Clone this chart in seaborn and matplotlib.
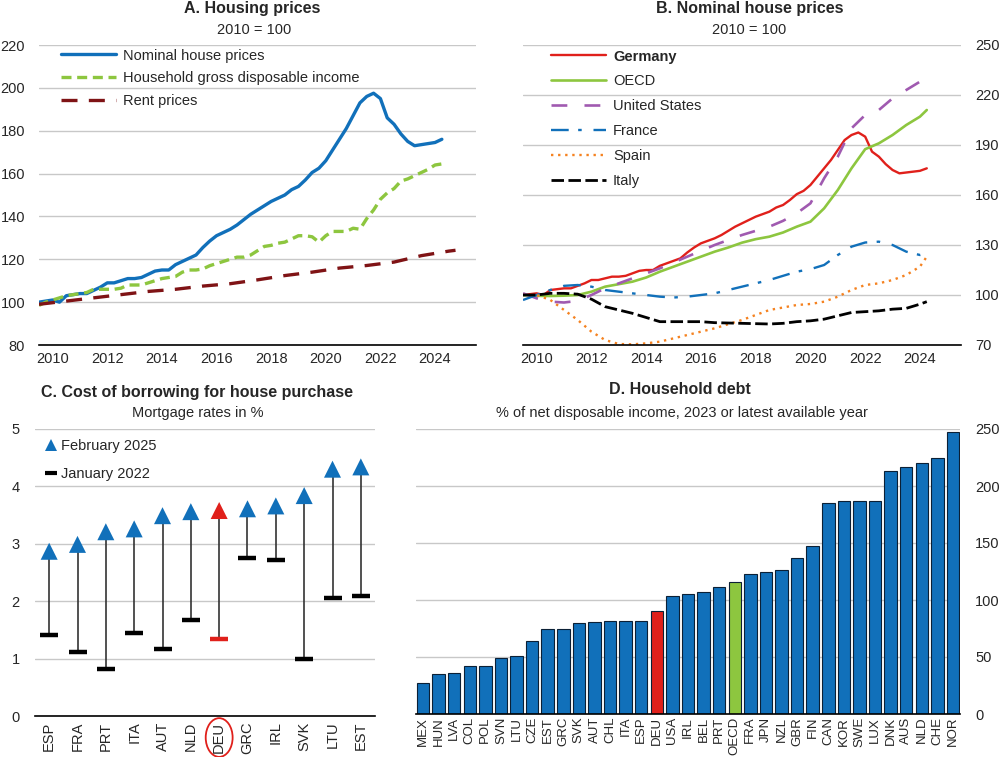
import numpy as np
import matplotlib
matplotlib.use("Agg")
import matplotlib.pyplot as plt
import seaborn as sns
from matplotlib.lines import Line2D
from matplotlib.patches import Ellipse
from matplotlib.ticker import FixedLocator, NullFormatter
import matplotlib.transforms as mtransforms

# ---------------- data ----------------
# Panel A / B : Germany, quarterly 2010Q1-2024Q4, 2010 = 100
quarters = 2010 + np.arange(60) / 4
house_prices = [100, 100.5, 101, 100, 103, 103.5, 104, 104, 105.5, 107, 109, 109,
                110, 111, 111, 111.5, 113, 114.5, 115, 115, 117.5, 119, 120.5, 122,
                125.5, 128.5, 131, 132.5, 134, 136, 138.5, 141, 143, 145, 147, 148.5,
                150, 152.5, 154, 157, 160.5, 162.5, 166, 171, 176, 181, 187, 193,
                196, 197.5, 195, 186, 183, 178.5, 175, 173, 173.5, 174, 174.5, 176]
income = [98.5, 100, 101, 102, 103, 103.5, 104, 104.5, 106, 106, 106, 106,
          106.5, 108, 108, 108, 109, 110, 111, 111.5, 112, 114, 115, 115,
          115.5, 117, 118, 119, 120, 121, 121, 122, 124, 126, 126.5, 127.5,
          128, 129.5, 131, 131, 130.5, 128, 131, 133, 133, 133, 134.5, 134,
          139, 143, 148, 151, 153, 156.5, 157.5, 159, 160.5, 162, 164, 164.5]
rent_x = [2010, 2011, 2012, 2013, 2014, 2015, 2016, 2017, 2018, 2019,
          2020, 2021, 2022, 2023, 2024, 2025, 2025.25]
rent = [99, 100.5, 102, 103.5, 105, 106, 107.5, 108.6, 110.4, 112.4,
        114, 115.9, 117.1, 118.7, 121.7, 123.8, 124.2]

# Panel B : half-yearly, 2010 = 100
half_years = list(np.arange(2010, 2024.6, 0.5)) + [2024.75]
oecd = [100, 99.5, 99.4, 99.6, 100, 102, 105, 106.5, 108, 110.5, 114, 117, 120,
        123, 126, 128.5, 131.4, 133.5, 135, 137.5, 141, 144, 152, 163, 176, 187.5,
        191, 196, 202, 207, 211]
usa = [101, 98, 96, 95.5, 96.5, 100, 104, 107, 110, 113, 116, 119.5, 123, 126.5,
       130, 133, 136, 138.5, 141, 144.5, 149, 155, 170, 183, 200, 208, 211, 218,
       223, 228, 231]
france = [97, 100, 103, 105.5, 106, 105, 103, 102, 101, 100, 99, 98.5, 99, 100,
          101, 103, 105, 107, 109, 111.5, 114, 115.5, 118, 124, 129, 131.5, 132,
          130, 126, 124, 125]
spain = [100, 100, 97, 91, 85, 78, 73, 70.6, 70.4, 71, 72, 74, 76, 78, 80, 82.5,
         85, 88, 91, 92.5, 94, 94.6, 96, 99, 103, 106, 107, 109, 112, 117, 123]
italy = [100, 100, 101, 101, 100.5, 97.5, 93, 91, 89, 86.5, 84, 84, 84, 84, 83.4,
         83.2, 83, 82.8, 82.6, 83, 84, 84.5, 85.5, 87.5, 89.5, 90, 90.5, 91.5, 92,
         94.5, 96]

# Panel C : mortgage rates, %
c_countries = ["ESP", "FRA", "PRT", "ITA", "AUT", "NLD", "DEU", "GRC", "IRL", "SVK", "LTU", "EST"]
feb_2025 = [2.87, 2.99, 3.21, 3.26, 3.49, 3.56, 3.58, 3.61, 3.66, 3.84, 4.30, 4.34]
jan_2022 = [1.415, 1.11, 0.82, 1.44, 1.16, 1.665, 1.345, 2.755, 2.71, 1.00, 2.05, 2.09]

# Panel D : household debt, % of net disposable income
d_countries = ["MEX", "HUN", "LVA", "COL", "POL", "SVN", "LTU", "CZE", "EST", "GRC", "SVK",
               "AUT", "CHL", "ITA", "ESP", "DEU", "USA", "IRL", "BEL", "PRT", "OECD", "FRA",
               "JPN", "NZL", "GBR", "FIN", "CAN", "KOR", "SWE", "LUX", "DNK", "AUS", "NLD",
               "CHE", "NOR"]
debt = [27, 35, 36, 42, 42, 49, 51, 64, 75, 75, 80, 81, 81.6, 82, 82, 90, 103.4, 105,
        106.6, 111.3, 116, 122.7, 124.7, 125.9, 137, 147, 185.3, 186.8, 186.8, 186.8,
        213, 217, 220.6, 225, 247.4]

# ---------------- style ----------------
BLUE = "#1170BA"
GREEN = "#8DC63F"
RED = "#E0201B"
DARKRED = "#7F1315"
PURPLE = "#A05AB0"
ORANGE = "#F58220"
GRID = "#C8C8C8"
FS = 10.5      # body text
TFS = 11.5     # panel titles

sns.set_style("white")
plt.rcParams["font.family"] = ["Liberation Sans", "DejaVu Sans"]
plt.rcParams["font.size"] = FS

W, H = 1000, 757
fig = plt.figure(figsize=(10, 7.57), dpi=100)


def px_axes(l, t, r, b):
    return fig.add_axes([l / W, 1 - b / H, (r - l) / W, (b - t) / H])


def px_text(x, y, s, **kw):
    fig.text(x / W, 1 - y / H, s, ha="center", va="center", **kw)


def base_style(ax):
    for s in ["top", "left", "right"]:
        ax.spines[s].set_visible(False)
    ax.spines["bottom"].set_color("black")
    ax.spines["bottom"].set_linewidth(1.2)
    ax.yaxis.grid(True, color=GRID, lw=1)
    ax.xaxis.grid(False)
    ax.set_axisbelow(True)
    ax.set_xlabel("")
    ax.set_ylabel("")


def year_axis(ax):
    ax.set_xlim(2010, 2026)
    ax.xaxis.set_major_locator(FixedLocator(range(2010, 2027)))
    ax.xaxis.set_major_formatter(NullFormatter())
    ax.xaxis.set_minor_locator(FixedLocator([y + 0.5 for y in range(2010, 2025, 2)]))
    ax.set_xticklabels([str(y) for y in range(2010, 2025, 2)], minor=True)
    ax.tick_params(axis="x", which="major", direction="in", length=5, width=1.2, color="black")
    ax.tick_params(axis="x", which="minor", length=0, pad=5, labelsize=FS)


axA = px_axes(39, 45, 476, 345)
axB = px_axes(523, 45, 961, 345)
axC = px_axes(35, 429, 375, 716)
axD = px_axes(416, 429, 960, 714)

# ---------------- Panel A ----------------
sns.lineplot(x=quarters, y=house_prices, color=BLUE, lw=2.4, label="Nominal house prices", ax=axA)
sns.lineplot(x=quarters, y=income, color=GREEN, lw=2.4, linestyle=(0, (3.0, 1.7)),
             label="Household gross disposable income", ax=axA)
sns.lineplot(x=rent_x, y=rent, color=DARKRED, lw=2.4, linestyle=(0, (4.8, 3.4)),
             label="Rent prices", ax=axA)
base_style(axA)
year_axis(axA)
axA.set_ylim(80, 220)
axA.set_yticks(range(80, 221, 20))
axA.tick_params(axis="y", length=0, pad=10, labelsize=FS)
axA.legend(frameon=False, loc="upper left", bbox_to_anchor=(22 / 437, 0.988), borderpad=0,
           borderaxespad=0, handlelength=3.8, handletextpad=0.45, labelspacing=0.6, fontsize=FS)
px_text(252, 9, "A. Housing prices", fontsize=TFS, fontweight="bold")
px_text(254, 30, "2010 = 100", fontsize=FS)

# ---------------- Panel B ----------------
sns.lineplot(x=quarters, y=house_prices, color=RED, lw=1.7, label="Germany", ax=axB)
sns.lineplot(x=half_years, y=oecd, color=GREEN, lw=1.9, label="OECD", ax=axB)
sns.lineplot(x=half_years, y=usa, color=PURPLE, lw=1.9, linestyle=(0, (6, 6.5)),
             label="United States", ax=axB)
sns.lineplot(x=half_years, y=france, color=BLUE, lw=1.7, linestyle=(0, (7.5, 4, 1.5, 5)),
             label="France", ax=axB)
sns.lineplot(x=half_years, y=spain, color=ORANGE, lw=1.7, linestyle=(0, (1, 2)),
             label="Spain", ax=axB)
sns.lineplot(x=half_years, y=italy, color="black", lw=2.0, linestyle=(0, (4.5, 1.6)),
             label="Italy", ax=axB)
base_style(axB)
year_axis(axB)
axB.set_ylim(70, 250)
axB.set_yticks(range(70, 251, 30))
axB.yaxis.tick_right()
axB.tick_params(axis="y", length=0, pad=10, labelsize=FS)
legB = axB.legend(frameon=False, loc="upper left", bbox_to_anchor=(28 / 438, 0.985), borderpad=0,
                  borderaxespad=0, handlelength=3.8, handletextpad=0.45, labelspacing=0.75,
                  fontsize=FS)
legB.get_texts()[0].set_fontweight("bold")
px_text(750, 9, "B. Nominal house prices", fontsize=TFS, fontweight="bold")
px_text(749, 30, "2010 = 100", fontsize=FS)

# ---------------- Panel C ----------------
xc = np.arange(len(c_countries))
c_colors = [RED if c == "DEU" else BLUE for c in c_countries]
d_marks = [RED if c == "DEU" else "black" for c in c_countries]
axC.vlines(xc, jan_2022, feb_2025, color="#333333", lw=1.2, zorder=2)
sns.scatterplot(x=xc, y=feb_2025, hue=c_countries, palette=c_colors, marker="^", s=150,
                linewidth=0, legend=False, zorder=3, ax=axC)
for i in xc:
    axC.plot(i, jan_2022[i], ls="none", marker="_", ms=13.5, mew=3.2, color=d_marks[i], zorder=3)
base_style(axC)
axC.set_xlim(-0.5, len(c_countries) - 0.5)
axC.set_ylim(0, 5)
axC.set_yticks(range(0, 6))
axC.tick_params(axis="y", length=0, pad=11, labelsize=FS)
axC.xaxis.set_major_locator(FixedLocator(np.arange(-0.5, len(c_countries), 1)))
axC.xaxis.set_major_formatter(NullFormatter())
axC.xaxis.set_minor_locator(FixedLocator(xc))
axC.set_xticklabels(c_countries, minor=True, rotation=90)
axC.tick_params(axis="x", which="major", direction="in", length=5, width=1.2, color="black")
axC.tick_params(axis="x", which="minor", length=0, pad=4, labelsize=FS)
trans = mtransforms.blended_transform_factory(axC.transData, axC.transAxes)
axC.add_patch(Ellipse((6, -0.075), 0.95, 0.135, transform=trans, fill=False, ec=RED, lw=1.3,
                      clip_on=False))
c_handles = [Line2D([], [], ls="none", marker="^", ms=8, color=BLUE, mew=0),
             Line2D([], [], ls="none", marker="_", ms=8, mew=3, color="black")]
axC.legend(c_handles, ["February 2025", "January 2022"], frameon=False, loc="upper left",
           bbox_to_anchor=(9 / 340, 0.964), borderpad=0, borderaxespad=0, handlelength=0.9,
           handletextpad=0.25, labelspacing=0.97, fontsize=FS)
px_text(197, 392, "C. Cost of borrowing for house purchase", fontsize=TFS, fontweight="bold")
px_text(198, 413, "Mortgage rates in %", fontsize=FS)

# ---------------- Panel D ----------------
bar_colors = [RED if c == "DEU" else GREEN if c == "OECD" else BLUE for c in d_countries]
sns.barplot(x=d_countries, y=debt, hue=d_countries, palette=bar_colors, order=d_countries,
            hue_order=d_countries, legend=False, width=0.8, saturation=1,
            edgecolor="#0B2036", linewidth=0.8, ax=axD)
base_style(axD)
axD.set_xlim(-0.45, len(d_countries) - 0.55)
axD.set_ylim(0, 250)
axD.set_yticks(range(0, 251, 50))
axD.yaxis.tick_right()
axD.tick_params(axis="y", length=0, pad=11, labelsize=FS)
axD.tick_params(axis="x", length=0, pad=2, labelsize=9.5, rotation=90)
px_text(680, 390, "D. Household debt", fontsize=TFS, fontweight="bold")
px_text(682, 413, "% of net disposable income, 2023 or latest available year", fontsize=FS)

fig.savefig("out.png", dpi=100)
